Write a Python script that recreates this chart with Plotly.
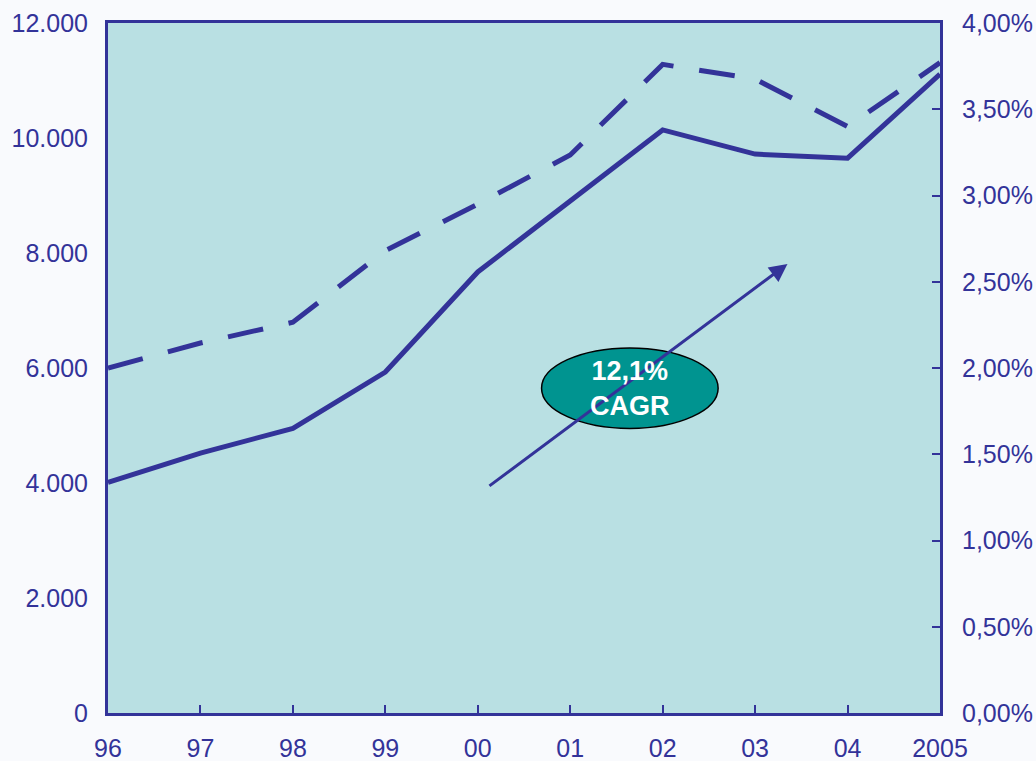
import plotly.graph_objects as go

years = [1996, 1997, 1998, 1999, 2000, 2001, 2002, 2003, 2004, 2005]
year_labels = ["96", "97", "98", "99", "00", "01", "02", "03", "04", "2005"]
volume = [4010, 4520, 4950, 5930, 7670, 8900, 10140, 9720, 9650, 11110]
share = [0.0200, 0.02145, 0.02265, 0.0268, 0.0295, 0.03235, 0.0376, 0.03675, 0.0340, 0.0377]

BLUE = "#333399"
FONT = "Liberation Sans, Arial, sans-serif"

fig = go.Figure()
fig.add_trace(go.Scatter(x=years, y=volume, mode="lines", line=dict(color=BLUE, width=5),
                         showlegend=False))
fig.add_trace(go.Scatter(x=years, y=share, mode="lines", yaxis="y2",
                         line=dict(color=BLUE, width=5, dash="36px,26px"), showlegend=False))

fig.update_layout(
    width=1036, height=761,
    margin=dict(l=108, r=96, t=23, b=48),
    paper_bgcolor="#f9fafd",
    plot_bgcolor="#b9e0e3",
    separators=",.",
    font=dict(family=FONT, size=25, color=BLUE),
    xaxis=dict(range=[1996, 2005], tickvals=years, ticktext=year_labels,
               ticks="inside", ticklen=8, tickwidth=2, tickcolor=BLUE,
               showline=True, mirror=True, linecolor=BLUE, linewidth=3,
               showgrid=False, zeroline=False, ticklabelstandoff=11, automargin=False),
    yaxis=dict(range=[0, 12000], dtick=2000, tickformat=",d",
               showline=True, mirror=True, linecolor=BLUE, linewidth=3,
               showgrid=False, zeroline=False, ticks="", ticklabelstandoff=12, automargin=False),
    yaxis2=dict(range=[0, 0.04], dtick=0.005, tickformat=".2%", overlaying="y", side="right",
                ticks="inside", ticklen=8, tickwidth=2, tickcolor=BLUE,
                showline=True, linecolor=BLUE, linewidth=3,
                showgrid=False, zeroline=False, ticklabelstandoff=14, automargin=False),
)

# growth arrow
fig.add_annotation(x=2003.35, y=7810, ax=2000.11, ay=3930, xref="x", yref="y", axref="x", ayref="y",
                   showarrow=True, arrowhead=2, arrowsize=1.2, arrowwidth=3, arrowcolor=BLUE, text="")

# CAGR bubble
fig.add_shape(type="circle", xref="x", yref="y", x0=2000.69, x1=2002.60, y0=4950, y1=6350,
              fillcolor="#009490", line=dict(color="black", width=1.5))
fig.add_annotation(x=2001.645, y=5650, xref="x", yref="y", showarrow=False,
                   text="<b>12,1%<br>CAGR</b>", font=dict(family=FONT, size=27, color="white"))

# drop the browser's default body margin so the figure sits at the window's corner
fig.write_html("out.html", config={"displayModeBar": False},
               post_script="document.body.style.margin='0';")
